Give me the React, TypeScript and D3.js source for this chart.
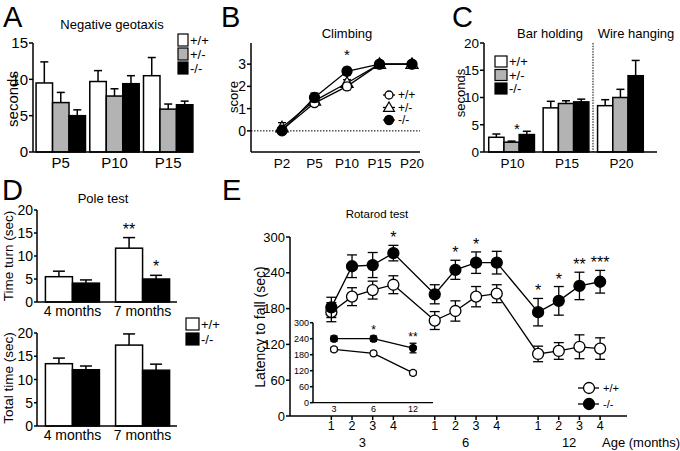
import React from "react";
import * as d3 from "d3";

const FONT = "'Liberation Sans', Arial, Helvetica, sans-serif";
const GREY = "#b3b3b3";
const genotypes3 = ["+/+", "+/-", "-/-"];
const fills3 = ["white", GREY, "black"];

// ---- Panel A: Negative geotaxis
const aGroups = ["P5", "P10", "P15"];
const aWT = [9.5, 9.7, 10.5];
const aWTErr = [2.9, 1.5, 2.5];
const aHet = [6.8, 7.7, 5.9];
const aHetErr = [1.4, 1.0, 0.7];
const aKO = [5.0, 9.4, 6.5];
const aKOErr = [0.8, 1.1, 0.5];
const aTicks = [0, 5, 10, 15];

// ---- Panel B: Climbing
const bAges = ["P2", "P5", "P10", "P15", "P20"];
const bWT = [0.05, 1.25, 2.0, 3, 3];
const bWTErr = [0.12, 0.1, 0.15, 0, 0];
const bHet = [0.15, 1.35, 2.15, 3, 3];
const bHetErr = [0.22, 0.12, 0.15, 0, 0];
const bKO = [0, 1.5, 2.68, 3, 3];
const bKOErr = [0.08, 0.2, 0.17, 0, 0];
const bTicks = [0, 1, 2, 3];
const bStars = ["", "", "*", "", ""];

// ---- Panel C: Bar holding / Wire hanging
const cGroups = ["P10", "P15", "P20"];
const cWT = [2.7, 8.1, 8.5];
const cWTErr = [0.6, 1.2, 1.1];
const cHet = [1.8, 8.9, 10.0];
const cHetErr = [0.2, 0.5, 1.5];
const cKO = [3.2, 9.2, 14.0];
const cKOErr = [0.6, 0.5, 2.8];
const cTicks = [0, 5, 10, 15, 20];

// ---- Panel D: Pole test
const dGroups = ["4 months", "7 months"];
const dTurnWT = [5.5, 11.7];
const dTurnWTErr = [1.2, 2.3];
const dTurnKO = [4.1, 5.0];
const dTurnKOErr = [0.7, 0.8];
const dTurnStars = [["", ""], ["**", "*"]];
const dTotalWT = [13.4, 17.4];
const dTotalWTErr = [1.2, 2.4];
const dTotalKO = [12.1, 12.0];
const dTotalKOErr = [0.8, 1.3];
const dTicks = [0, 5, 10, 15, 20];

// ---- Panel E: Rotarod
const eAges = ["3", "6", "12"];
const eSessions = ["1", "2", "3", "4"];
const eWT = [174, 200, 211, 220, 160, 176, 200, 205, 104, 109, 116, 113];
const eWTErr = [16, 15, 15, 15, 15, 17, 17, 15, 13, 14, 20, 18];
const eKO = [182, 251, 253, 273, 204, 245, 257, 257, 174, 193, 218, 225];
const eKOErr = [17, 19, 21, 13, 16, 16, 18, 19, 23, 24, 23, 19];
const eStars = ["", "", "", "*", "", "*", "*", "", "*", "*", "**", "***"];
const eTicks = [0, 60, 120, 180, 240, 300];
const insetAges = ["3", "6", "12"];
const insetWT = [200, 185, 112];
const insetWTErr = [8, 8, 8];
const insetKO = [240, 240, 205];
const insetKOErr = [10, 10, 18];
const insetStars = ["", "*", "**"];

const SW = 1.5;

function YAxis({ x, y, ticks, fs, len = 4 }: any) {
  const [y0, y1] = y.range();
  return (
    <g>
      <line x1={x} x2={x} y1={y0} y2={y1} stroke="black" strokeWidth={SW} />
      {ticks.map((t: number) => (
        <g key={t}>
          <line x1={x - len} x2={x} y1={y(t)} y2={y(t)} stroke="black" strokeWidth={SW} />
          <text x={x - len - 1} y={y(t)} dy="0.36em" textAnchor="end" fontSize={fs}>
            {t}
          </text>
        </g>
      ))}
    </g>
  );
}

function Bars({ x, y, groups, series, fills, cap }: any) {
  const n = series.length;
  const bw = x.bandwidth() / n;
  return (
    <g>
      {groups.map((g: string, gi: number) =>
        series.map((s: any, si: number) => {
          const x0 = (x(g) as number) + si * bw;
          const cx = x0 + bw / 2;
          const top = y(s.v[gi]);
          const et = y(s.v[gi] + s.e[gi]);
          return (
            <g key={g + si}>
              <line x1={cx} x2={cx} y1={top} y2={et} stroke="black" strokeWidth={SW} />
              <line x1={cx - cap / 2} x2={cx + cap / 2} y1={et} y2={et} stroke="black" strokeWidth={SW} />
              <rect x={x0} y={top} width={bw} height={y(0) - top} fill={fills[si]} stroke="black" strokeWidth={SW} />
            </g>
          );
        })
      )}
    </g>
  );
}

function BoxLegend({ x, y0, dy, w, h, labels, fills, fs }: any) {
  return (
    <g>
      {labels.map((l: string, i: number) => (
        <g key={l}>
          <rect x={x} y={y0 + i * dy} width={w} height={h} fill={fills[i]} stroke="black" strokeWidth={1.2} />
          <text x={x + w + 2} y={y0 + i * dy + h / 2} dy="0.36em" fontSize={fs}>
            {l}
          </text>
        </g>
      ))}
    </g>
  );
}

function Marker({ kind, cx, cy, r }: any) {
  if (kind === "tri") {
    const p = d3.symbol().type(d3.symbolTriangle).size(r * r * 3.2)();
    return <path d={p as string} transform={`translate(${cx},${cy + 0.8})`} fill="white" stroke="black" strokeWidth={1.2} />;
  }
  return <circle cx={cx} cy={cy} r={r} fill={kind === "filled" ? "black" : "white"} stroke="black" strokeWidth={1.3} />;
}

function ErrBar({ cx, yLo, yHi, cap }: any) {
  return (
    <g stroke="black" strokeWidth={1.3}>
      <line x1={cx} x2={cx} y1={yLo} y2={yHi} />
      <line x1={cx - cap / 2} x2={cx + cap / 2} y1={yLo} y2={yLo} />
      <line x1={cx - cap / 2} x2={cx + cap / 2} y1={yHi} y2={yHi} />
    </g>
  );
}

function LineSeries({ xs, vals, errs, y, kind, r, cap }: any) {
  const line = d3.line<number>().x((_, i) => xs[i]).y((v) => y(v));
  return (
    <g>
      <path d={line(vals) as string} fill="none" stroke="black" strokeWidth={1.3} />
      {vals.map((v: number, i: number) =>
        errs[i] > 0 ? <ErrBar key={"e" + i} cx={xs[i]} yLo={y(v - errs[i])} yHi={y(v + errs[i])} cap={cap} /> : null
      )}
      {vals.map((v: number, i: number) => (
        <Marker key={"m" + i} kind={kind} cx={xs[i]} cy={y(v)} r={r} />
      ))}
    </g>
  );
}

function Letter({ x, y, t }: any) {
  return (
    <text x={x} y={y} fontSize={29}>
      {t}
    </text>
  );
}

function VLabel({ x, y, t, fs }: any) {
  return (
    <text transform={`translate(${x},${y}) rotate(-90)`} textAnchor="middle" fontSize={fs}>
      {t}
    </text>
  );
}

export default function App() {
  // Panel A
  const aY = d3.scaleLinear().domain([0, 15]).range([152, 43]);
  const aX = d3.scaleBand().domain(aGroups).range([35, 194]).paddingInner(0.08).paddingOuter(0.02);
  const aSeries = [
    { v: aWT, e: aWTErr },
    { v: aHet, e: aHetErr },
    { v: aKO, e: aKOErr },
  ];

  // Panel B
  const bY = d3.scaleLinear().domain([-0.95, 3.95]).range([152, 43]);
  const bX = d3.scalePoint().domain(bAges).range([282, 412]);
  const bXs = bAges.map((a) => bX(a) as number);

  // Panel C
  const cY = d3.scaleLinear().domain([0, 20]).range([152, 43]);
  const cX = d3.scaleBand().domain(cGroups).range([486, 646]).paddingInner(0.16).paddingOuter(0.05);
  const cSeries = [
    { v: cWT, e: cWTErr },
    { v: cHet, e: cHetErr },
    { v: cKO, e: cKOErr },
  ];

  // Panel D
  const dX = d3.scaleBand().domain(dGroups).range([37, 178]).paddingInner(0.23).paddingOuter(0.12);
  const dY1 = d3.scaleLinear().domain([0, 20]).range([302, 210]);
  const dY2 = d3.scaleLinear().domain([0, 20]).range([426, 333]);
  const dFills = ["white", "black"];

  // Panel E
  const eX = d3.scaleLinear().domain([-2, 14.3]).range([290, 627]);
  const eIdx: number[] = [];
  eAges.forEach((_, ai) => eSessions.forEach((_, si) => eIdx.push(ai * 5 + si)));
  const eXs = eIdx.map((i) => eX(i));
  const eY = d3.scaleLinear().domain([0, 300]).range([416, 237]);
  const iX = d3.scalePoint().domain(insetAges).range([334, 413]);
  const iXs = insetAges.map((a) => iX(a) as number);
  const iY = d3.scaleLinear().domain([0, 300]).range([402.7, 322.7]);

  return (
    <svg
      width={680}
      height={451}
      style={{ position: "absolute", left: 0, top: 0, background: "white" }}
      fontFamily={FONT}
    >
      <rect width={680} height={451} fill="white" />

      {/* ---------- A ---------- */}
      <Letter x={3} y={27} t="A" />
      <text x={112} y={29} textAnchor="middle" fontSize={13}>Negative geotaxis</text>
      <VLabel x={18} y={99} t="seconds" fs={15} />
      <Bars x={aX} y={aY} groups={aGroups} series={aSeries} fills={fills3} cap={8} />
      <YAxis x={33} y={aY} ticks={aTicks} fs={15} />
      <line x1={33} x2={193} y1={152} y2={152} stroke="black" strokeWidth={SW} />
      {aGroups.map((g) => (
        <text key={g} x={(aX(g) as number) + aX.bandwidth() / 2} y={168} textAnchor="middle" fontSize={15}>{g}</text>
      ))}
      <BoxLegend x={178} y0={34} dy={14} w={10} h={12} labels={genotypes3} fills={fills3} fs={13} />

      {/* ---------- B ---------- */}
      <Letter x={221} y={27} t="B" />
      <text x={347} y={38} textAnchor="middle" fontSize={13}>Climbing</text>
      <VLabel x={238} y={97} t="score" fs={13} />
      <line x1={251} x2={420} y1={bY(0)} y2={bY(0)} stroke="black" strokeWidth={1} strokeDasharray="1.5,1.5" />
      <YAxis x={251} y={bY} ticks={bTicks} fs={14} />
      <line x1={251} x2={420} y1={152} y2={152} stroke="black" strokeWidth={SW} />
      {bAges.map((a) => (
        <text key={a} x={bX(a) as number} y={168} textAnchor="middle" fontSize={13.5}>{a}</text>
      ))}
      <LineSeries xs={bXs} vals={bHet} errs={bHetErr} y={bY} kind="tri" r={4.5} cap={8} />
      <LineSeries xs={bXs} vals={bWT} errs={bWTErr} y={bY} kind="open" r={4.5} cap={8} />
      <LineSeries xs={bXs} vals={bKO} errs={bKOErr} y={bY} kind="filled" r={5} cap={8} />
      {bStars.map((s, i) =>
        s ? <text key={i} x={bXs[i]} y={60} textAnchor="middle" fontSize={15}>{s}</text> : null
      )}
      {["open", "tri", "filled"].map((k, i) => (
        <g key={k}>
          <line x1={383} x2={395} y1={95 + i * 12.5} y2={95 + i * 12.5} stroke="black" strokeWidth={1.3} />
          <Marker kind={k} cx={389} cy={95 + i * 12.5} r={k === "filled" ? 4.5 : 4} />
          <text x={398} y={95 + i * 12.5} dy="0.36em" fontSize={12}>{genotypes3[i]}</text>
        </g>
      ))}

      {/* ---------- C ---------- */}
      <Letter x={452} y={27} t="C" />
      <text x={550} y={38} textAnchor="middle" fontSize={13}>Bar holding</text>
      <text x={636} y={38} textAnchor="middle" fontSize={13}>Wire hanging</text>
      <VLabel x={465} y={93} t="seconds" fs={13} />
      <line x1={593} x2={593} y1={43} y2={152} stroke="black" strokeWidth={1} strokeDasharray="1.5,1.2" />
      <Bars x={cX} y={cY} groups={cGroups} series={cSeries} fills={fills3} cap={8} />
      <YAxis x={484} y={cY} ticks={cTicks} fs={13.5} />
      <line x1={484} x2={657} y1={152} y2={152} stroke="black" strokeWidth={SW} />
      {cGroups.map((g) => (
        <text key={g} x={(cX(g) as number) + cX.bandwidth() / 2 + 1} y={168} textAnchor="middle" fontSize={13.5}>{g}</text>
      ))}
      <text x={517} y={134} textAnchor="middle" fontSize={15}>*</text>
      <BoxLegend x={495} y0={56} dy={13.5} w={12} h={11} labels={genotypes3} fills={fills3} fs={13} />

      {/* ---------- D ---------- */}
      <Letter x={2} y={200} t="D" />
      <text x={103} y={203} textAnchor="middle" fontSize={13}>Pole test</text>
      <VLabel x={13} y={256} t="Time turn (sec)" fs={13.5} />
      <VLabel x={13} y={378} t="Total time (sec)" fs={13.5} />
      <Bars x={dX} y={dY1} groups={dGroups} series={[{ v: dTurnWT, e: dTurnWTErr }, { v: dTurnKO, e: dTurnKOErr }]} fills={dFills} cap={12} />
      <Bars x={dX} y={dY2} groups={dGroups} series={[{ v: dTotalWT, e: dTotalWTErr }, { v: dTotalKO, e: dTotalKOErr }]} fills={dFills} cap={12} />
      <YAxis x={37} y={dY1} ticks={dTicks} fs={14} len={3} />
      <YAxis x={37} y={dY2} ticks={dTicks} fs={14} len={3} />
      <line x1={37} x2={177} y1={302} y2={302} stroke="black" strokeWidth={SW} />
      <line x1={37} x2={177} y1={426} y2={426} stroke="black" strokeWidth={SW} />
      {dGroups.map((g) => (
        <g key={g}>
          <text x={(dX(g) as number) + dX.bandwidth() / 2} y={316} textAnchor="middle" fontSize={14}>{g}</text>
          <text x={(dX(g) as number) + dX.bandwidth() / 2} y={440} textAnchor="middle" fontSize={14}>{g}</text>
        </g>
      ))}
      {dGroups.map((g, gi) =>
        dTurnStars[gi].map((s, si) => {
          if (!s) return null;
          const bw = dX.bandwidth() / 2;
          const cx = (dX(g) as number) + si * bw + bw / 2;
          const v = si === 0 ? dTurnWT[gi] + dTurnWTErr[gi] : dTurnKO[gi] + dTurnKOErr[gi];
          return <text key={g + si} x={cx} y={dY1(v) - 3} textAnchor="middle" fontSize={16}>{s}</text>;
        })
      )}
      <BoxLegend x={186} y0={318} dy={15} w={13} h={12} labels={["+/+", "-/-"]} fills={dFills} fs={13} />

      {/* ---------- E ---------- */}
      <Letter x={222} y={200} t="E" />
      <text x={377} y={218} textAnchor="middle" fontSize={11.5}>Rotarod test</text>
      <VLabel x={265} y={327} t="Latency to fall (sec)" fs={14} />
      <YAxis x={290} y={eY} ticks={eTicks} fs={13} />
      <line x1={290} x2={627} y1={416} y2={416} stroke="black" strokeWidth={SW} />
      {eIdx.map((idx, i) => (
        <g key={i}>
          <line x1={eX(idx)} x2={eX(idx)} y1={416} y2={420} stroke="black" strokeWidth={SW} />
          <text x={eX(idx)} y={430} textAnchor="middle" fontSize={12.5}>{eSessions[i % 4]}</text>
        </g>
      ))}
      {eAges.map((a, ai) => (
        <text key={a} x={eX(ai * 5 + 1.5)} y={447} textAnchor="middle" fontSize={13}>{a}</text>
      ))}
      <text x={602} y={447} fontSize={13}>Age (months)</text>
      <LineSeries xs={eXs} vals={eWT} errs={eWTErr} y={eY} kind="open" r={5.5} cap={10} />
      <LineSeries xs={eXs} vals={eKO} errs={eKOErr} y={eY} kind="filled" r={5.5} cap={10} />
      {eStars.map((s, i) =>
        s ? <text key={i} x={eXs[i]} y={eY(eKO[i] + eKOErr[i]) - 2} textAnchor="middle" fontSize={16}>{s}</text> : null
      )}
      {/* inset */}
      <YAxis x={313} y={iY} ticks={eTicks} fs={9} len={3} />
      <line x1={313} x2={433} y1={402.7} y2={402.7} stroke="black" strokeWidth={1.3} />
      {insetAges.map((a) => (
        <text key={a} x={iX(a) as number} y={412} textAnchor="middle" fontSize={9}>{a}</text>
      ))}
      <LineSeries xs={iXs} vals={insetWT} errs={insetWTErr} y={iY} kind="open" r={3.5} cap={7} />
      <LineSeries xs={iXs} vals={insetKO} errs={insetKOErr} y={iY} kind="filled" r={3.5} cap={7} />
      {insetStars.map((s, i) =>
        s ? <text key={i} x={iXs[i]} y={iY(insetKO[i] + insetKOErr[i]) - 2} textAnchor="middle" fontSize={12}>{s}</text> : null
      )}
      {["open", "filled"].map((k, i) => (
        <g key={k}>
          <line x1={578} x2={599} y1={388 + i * 16} y2={388 + i * 16} stroke="black" strokeWidth={1.3} />
          <Marker kind={k} cx={589} cy={388 + i * 16} r={5.5} />
          <text x={603} y={388 + i * 16} dy="0.36em" fontSize={11}>{i === 0 ? "+/+" : "-/-"}</text>
        </g>
      ))}
    </svg>
  );
}
